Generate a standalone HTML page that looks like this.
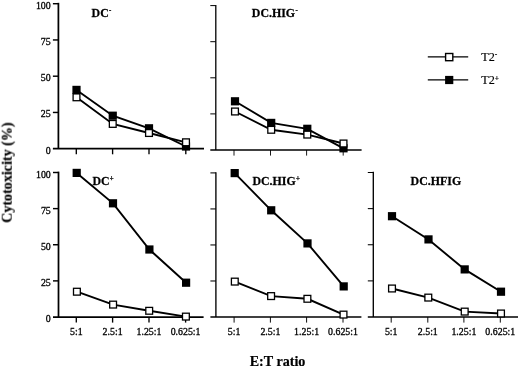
<!DOCTYPE html>
<html><head><meta charset="utf-8"><title>Cytotoxicity</title>
<style>
html,body{margin:0;padding:0;background:#fff;}
body{width:520px;height:367px;overflow:hidden;font-family:'Liberation Serif', serif;}
svg{display:block;}
svg text{font-family:'Liberation Serif', serif;fill:#000;}
</style></head><body>
<svg width="520" height="367" viewBox="0 0 520 367">
<defs><filter id="soft" x="0" y="0" width="520" height="367" filterUnits="userSpaceOnUse"><feGaussianBlur stdDeviation="0.32"/></filter></defs>
<rect width="520" height="367" fill="#fff"/>
<g filter="url(#soft)">
<path d="M58.4 2.825 V148.7" stroke="#000" stroke-width="1.75" fill="none"/>
<path d="M52.9 148.7 H204" stroke="#000" stroke-width="1.75" fill="none"/>
<path d="M52.9 3.70 H58.4" stroke="#000" stroke-width="1.45" fill="none"/>
<text x="50.699999999999996" y="8.70" text-anchor="end" font-size="9.9" stroke="#000" stroke-width="0.3">100</text>
<path d="M52.9 39.95 H58.4" stroke="#000" stroke-width="1.45" fill="none"/>
<text x="50.699999999999996" y="44.95" text-anchor="end" font-size="9.9" stroke="#000" stroke-width="0.3">75</text>
<path d="M52.9 76.20 H58.4" stroke="#000" stroke-width="1.45" fill="none"/>
<text x="50.699999999999996" y="81.20" text-anchor="end" font-size="9.9" stroke="#000" stroke-width="0.3">50</text>
<path d="M52.9 112.45 H58.4" stroke="#000" stroke-width="1.45" fill="none"/>
<text x="50.699999999999996" y="117.45" text-anchor="end" font-size="9.9" stroke="#000" stroke-width="0.3">25</text>
<text x="50.699999999999996" y="153.70" text-anchor="end" font-size="9.9" stroke="#000" stroke-width="0.3">0</text>
<path d="M76.3 148.7 V154.30" stroke="#000" stroke-width="1.35" fill="none"/>
<path d="M112.6 148.7 V154.30" stroke="#000" stroke-width="1.35" fill="none"/>
<path d="M149 148.7 V154.30" stroke="#000" stroke-width="1.35" fill="none"/>
<path d="M185.8 148.7 V154.30" stroke="#000" stroke-width="1.35" fill="none"/>
<text transform="translate(91.6,17.1) scale(0.945,1)" font-size="12.6" font-weight="bold" stroke="#000" stroke-width="0.25">DC<tspan dx="0.3" dy="-4.0" font-size="7.2">-</tspan></text>
<polyline points="76.5,89.9 112.75,115.7 149,128.3 186,146.5" stroke="#000" stroke-width="1.9" fill="none"/>
<polyline points="76.5,97.3 112.75,123.9 149,133.0 186,142.3" stroke="#000" stroke-width="1.9" fill="none"/>
<rect x="72.40" y="85.80" width="8.2" height="8.2" fill="#000"/><rect x="108.65" y="111.60" width="8.2" height="8.2" fill="#000"/><rect x="144.90" y="124.20" width="8.2" height="8.2" fill="#000"/><rect x="181.90" y="142.40" width="8.2" height="8.2" fill="#000"/>
<rect x="73.10" y="93.90" width="6.8" height="6.8" fill="#fff" stroke="#000" stroke-width="1.3"/><rect x="109.35" y="120.50" width="6.8" height="6.8" fill="#fff" stroke="#000" stroke-width="1.3"/><rect x="145.60" y="129.60" width="6.8" height="6.8" fill="#fff" stroke="#000" stroke-width="1.3"/><rect x="182.60" y="138.90" width="6.8" height="6.8" fill="#fff" stroke="#000" stroke-width="1.3"/>
<path d="M215.8 4.949999999999999 V150.0" stroke="#000" stroke-width="1.3" fill="none"/>
<path d="M210.3 150.0 H361.6" stroke="#000" stroke-width="1.3" fill="none"/>
<path d="M210.3 5.60 H215.8" stroke="#000" stroke-width="1.00" fill="none"/>
<path d="M210.3 41.70 H215.8" stroke="#000" stroke-width="1.00" fill="none"/>
<path d="M210.3 77.80 H215.8" stroke="#000" stroke-width="1.00" fill="none"/>
<path d="M210.3 113.90 H215.8" stroke="#000" stroke-width="1.00" fill="none"/>
<path d="M234 150.0 V155.60" stroke="#000" stroke-width="0.90" fill="none"/>
<path d="M270.5 150.0 V155.60" stroke="#000" stroke-width="0.90" fill="none"/>
<path d="M306.6 150.0 V155.60" stroke="#000" stroke-width="0.90" fill="none"/>
<path d="M343.2 150.0 V155.60" stroke="#000" stroke-width="0.90" fill="none"/>
<text transform="translate(251.8,17.0) scale(0.945,1)" font-size="12.6" font-weight="bold" stroke="#000" stroke-width="0.25">DC.HIG<tspan dx="0.3" dy="-4.0" font-size="7.2">-</tspan></text>
<polyline points="235,101.3 271.2,122.9 307.3,128.8 343.5,148.3" stroke="#000" stroke-width="1.9" fill="none"/>
<polyline points="235,111.5 271.2,129.8 307.3,134.6 343.5,143.5" stroke="#000" stroke-width="1.9" fill="none"/>
<rect x="230.90" y="97.20" width="8.2" height="8.2" fill="#000"/><rect x="267.10" y="118.80" width="8.2" height="8.2" fill="#000"/><rect x="303.20" y="124.70" width="8.2" height="8.2" fill="#000"/><rect x="339.40" y="144.20" width="8.2" height="8.2" fill="#000"/>
<rect x="231.60" y="108.10" width="6.8" height="6.8" fill="#fff" stroke="#000" stroke-width="1.3"/><rect x="267.80" y="126.40" width="6.8" height="6.8" fill="#fff" stroke="#000" stroke-width="1.3"/><rect x="303.90" y="131.20" width="6.8" height="6.8" fill="#fff" stroke="#000" stroke-width="1.3"/><rect x="340.10" y="140.10" width="6.8" height="6.8" fill="#fff" stroke="#000" stroke-width="1.3"/>
<path d="M58.5 171.625 V317.0" stroke="#000" stroke-width="1.75" fill="none"/>
<path d="M53.0 317.0 H203.6" stroke="#000" stroke-width="1.75" fill="none"/>
<path d="M53.0 172.50 H58.5" stroke="#000" stroke-width="1.45" fill="none"/>
<text x="50.8" y="177.50" text-anchor="end" font-size="9.9" stroke="#000" stroke-width="0.3">100</text>
<path d="M53.0 208.62 H58.5" stroke="#000" stroke-width="1.45" fill="none"/>
<text x="50.8" y="213.62" text-anchor="end" font-size="9.9" stroke="#000" stroke-width="0.3">75</text>
<path d="M53.0 244.75 H58.5" stroke="#000" stroke-width="1.45" fill="none"/>
<text x="50.8" y="249.75" text-anchor="end" font-size="9.9" stroke="#000" stroke-width="0.3">50</text>
<path d="M53.0 280.88 H58.5" stroke="#000" stroke-width="1.45" fill="none"/>
<text x="50.8" y="285.88" text-anchor="end" font-size="9.9" stroke="#000" stroke-width="0.3">25</text>
<text x="50.8" y="322.00" text-anchor="end" font-size="9.9" stroke="#000" stroke-width="0.3">0</text>
<path d="M76.3 317.0 V322.60" stroke="#000" stroke-width="1.35" fill="none"/>
<path d="M112.6 317.0 V322.60" stroke="#000" stroke-width="1.35" fill="none"/>
<path d="M149 317.0 V322.60" stroke="#000" stroke-width="1.35" fill="none"/>
<path d="M185.6 317.0 V322.60" stroke="#000" stroke-width="1.35" fill="none"/>
<text x="76.3" y="335.10" text-anchor="middle" font-size="9.9" stroke="#000" stroke-width="0.3">5:1</text>
<text x="112.6" y="335.10" text-anchor="middle" font-size="9.9" stroke="#000" stroke-width="0.3">2.5:1</text>
<text x="149" y="335.10" text-anchor="middle" font-size="9.9" stroke="#000" stroke-width="0.3">1.25:1</text>
<text x="185.6" y="335.10" text-anchor="middle" font-size="9.9" stroke="#000" stroke-width="0.3">0.625:1</text>
<text transform="translate(92.4,185.0) scale(0.945,1)" font-size="12.6" font-weight="bold" stroke="#000" stroke-width="0.25">DC<tspan dx="0.3" dy="-3.6" font-size="7.2">+</tspan></text>
<polyline points="76.7,172.9 113,203.3 149.4,249.5 186.1,282.7" stroke="#000" stroke-width="1.9" fill="none"/>
<polyline points="76.9,291.7 113.1,304.6 149.2,310.8 185.9,316.6" stroke="#000" stroke-width="1.9" fill="none"/>
<rect x="72.60" y="168.80" width="8.2" height="8.2" fill="#000"/><rect x="108.90" y="199.20" width="8.2" height="8.2" fill="#000"/><rect x="145.30" y="245.40" width="8.2" height="8.2" fill="#000"/><rect x="182.00" y="278.60" width="8.2" height="8.2" fill="#000"/>
<rect x="73.50" y="288.30" width="6.8" height="6.8" fill="#fff" stroke="#000" stroke-width="1.3"/><rect x="109.70" y="301.20" width="6.8" height="6.8" fill="#fff" stroke="#000" stroke-width="1.3"/><rect x="145.80" y="307.40" width="6.8" height="6.8" fill="#fff" stroke="#000" stroke-width="1.3"/><rect x="182.50" y="313.20" width="6.8" height="6.8" fill="#fff" stroke="#000" stroke-width="1.3"/>
<path d="M215.9 172.225 V317.0" stroke="#000" stroke-width="1.35" fill="none"/>
<path d="M210.4 317.0 H361.4" stroke="#000" stroke-width="1.35" fill="none"/>
<path d="M210.4 172.90 H215.9" stroke="#000" stroke-width="1.05" fill="none"/>
<path d="M210.4 208.93 H215.9" stroke="#000" stroke-width="1.05" fill="none"/>
<path d="M210.4 244.95 H215.9" stroke="#000" stroke-width="1.05" fill="none"/>
<path d="M210.4 280.98 H215.9" stroke="#000" stroke-width="1.05" fill="none"/>
<path d="M234.1 317.0 V322.60" stroke="#000" stroke-width="0.95" fill="none"/>
<path d="M270.4 317.0 V322.60" stroke="#000" stroke-width="0.95" fill="none"/>
<path d="M306.6 317.0 V322.60" stroke="#000" stroke-width="0.95" fill="none"/>
<path d="M343 317.0 V322.60" stroke="#000" stroke-width="0.95" fill="none"/>
<text x="234.1" y="335.10" text-anchor="middle" font-size="9.9" stroke="#000" stroke-width="0.3">5:1</text>
<text x="270.4" y="335.10" text-anchor="middle" font-size="9.9" stroke="#000" stroke-width="0.3">2.5:1</text>
<text x="306.6" y="335.10" text-anchor="middle" font-size="9.9" stroke="#000" stroke-width="0.3">1.25:1</text>
<text x="343" y="335.10" text-anchor="middle" font-size="9.9" stroke="#000" stroke-width="0.3">0.625:1</text>
<text transform="translate(252.4,185.0) scale(0.945,1)" font-size="12.6" font-weight="bold" stroke="#000" stroke-width="0.25">DC.HIG<tspan dx="0.3" dy="-3.6" font-size="7.2">+</tspan></text>
<polyline points="234.7,173.1 271.2,210.3 307.5,243.4 343.7,286.4" stroke="#000" stroke-width="1.9" fill="none"/>
<polyline points="234.8,281.6 271.1,296.1 307.4,298.8 343.5,314.6" stroke="#000" stroke-width="1.9" fill="none"/>
<rect x="230.60" y="169.00" width="8.2" height="8.2" fill="#000"/><rect x="267.10" y="206.20" width="8.2" height="8.2" fill="#000"/><rect x="303.40" y="239.30" width="8.2" height="8.2" fill="#000"/><rect x="339.60" y="282.30" width="8.2" height="8.2" fill="#000"/>
<rect x="231.40" y="278.20" width="6.8" height="6.8" fill="#fff" stroke="#000" stroke-width="1.3"/><rect x="267.70" y="292.70" width="6.8" height="6.8" fill="#fff" stroke="#000" stroke-width="1.3"/><rect x="304.00" y="295.40" width="6.8" height="6.8" fill="#fff" stroke="#000" stroke-width="1.3"/><rect x="340.10" y="311.20" width="6.8" height="6.8" fill="#fff" stroke="#000" stroke-width="1.3"/>
<path d="M373.3 171.825 V317.0" stroke="#000" stroke-width="1.35" fill="none"/>
<path d="M367.8 317.0 H518" stroke="#000" stroke-width="1.35" fill="none"/>
<path d="M367.8 172.50 H373.3" stroke="#000" stroke-width="1.05" fill="none"/>
<path d="M367.8 208.62 H373.3" stroke="#000" stroke-width="1.05" fill="none"/>
<path d="M367.8 244.75 H373.3" stroke="#000" stroke-width="1.05" fill="none"/>
<path d="M367.8 280.88 H373.3" stroke="#000" stroke-width="1.05" fill="none"/>
<path d="M391.2 317.0 V322.60" stroke="#000" stroke-width="0.95" fill="none"/>
<path d="M427.8 317.0 V322.60" stroke="#000" stroke-width="0.95" fill="none"/>
<path d="M463.9 317.0 V322.60" stroke="#000" stroke-width="0.95" fill="none"/>
<path d="M500.3 317.0 V322.60" stroke="#000" stroke-width="0.95" fill="none"/>
<text x="391.2" y="335.10" text-anchor="middle" font-size="9.9" stroke="#000" stroke-width="0.3">5:1</text>
<text x="427.8" y="335.10" text-anchor="middle" font-size="9.9" stroke="#000" stroke-width="0.3">2.5:1</text>
<text x="463.9" y="335.10" text-anchor="middle" font-size="9.9" stroke="#000" stroke-width="0.3">1.25:1</text>
<text x="500.3" y="335.10" text-anchor="middle" font-size="9.9" stroke="#000" stroke-width="0.3">0.625:1</text>
<text transform="translate(410.6,184.6) scale(0.945,1)" font-size="12.6" font-weight="bold" stroke="#000" stroke-width="0.25">DC.HFIG</text>
<polyline points="392,216.2 428.5,239.4 464.7,269.4 501,291.7" stroke="#000" stroke-width="1.9" fill="none"/>
<polyline points="392,288.5 428.3,297.6 464.7,311.6 501,313.5" stroke="#000" stroke-width="1.9" fill="none"/>
<rect x="387.90" y="212.10" width="8.2" height="8.2" fill="#000"/><rect x="424.40" y="235.30" width="8.2" height="8.2" fill="#000"/><rect x="460.60" y="265.30" width="8.2" height="8.2" fill="#000"/><rect x="496.90" y="287.60" width="8.2" height="8.2" fill="#000"/>
<rect x="388.60" y="285.10" width="6.8" height="6.8" fill="#fff" stroke="#000" stroke-width="1.3"/><rect x="424.90" y="294.20" width="6.8" height="6.8" fill="#fff" stroke="#000" stroke-width="1.3"/><rect x="461.30" y="308.20" width="6.8" height="6.8" fill="#fff" stroke="#000" stroke-width="1.3"/><rect x="497.60" y="310.10" width="6.8" height="6.8" fill="#fff" stroke="#000" stroke-width="1.3"/>

<path d="M427.8 56.9 H468.2" stroke="#000" stroke-width="1.4"/>
<rect x="445.6" y="53.5" width="7.2" height="7.2" fill="#fff" stroke="#000" stroke-width="1.4"/>
<path d="M427.8 79.9 H468.2" stroke="#000" stroke-width="1.4"/>
<rect x="445.1" y="75.9" width="8.2" height="8.2" fill="#000"/>
<text x="481.2" y="60.8" font-size="12.2" stroke="#000" stroke-width="0.15">T2<tspan dy="-3.4" font-size="7.5" font-weight="bold">-</tspan></text>
<text x="481.2" y="83.8" font-size="12.2" stroke="#000" stroke-width="0.15">T2<tspan dy="-3.2" font-size="7.5" font-weight="bold">+</tspan></text>


<text transform="translate(11.7,172.6) rotate(-90)" text-anchor="middle" font-size="14.1" font-weight="bold" stroke="#000" stroke-width="0.2">Cytotoxicity (%)</text>
<text x="277.5" y="365.7" text-anchor="middle" font-size="14.1" font-weight="bold" stroke="#000" stroke-width="0.2">E:T ratio</text>

</g>
</svg>
</body></html>
